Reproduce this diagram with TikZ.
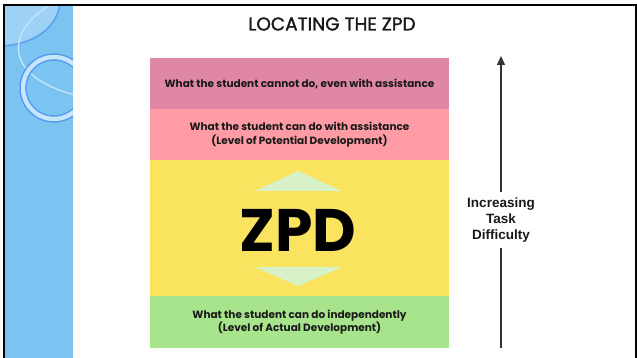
\documentclass[tikz,border=0pt]{standalone}
\usepackage{fontspec}
\setmainfont{Poppins}
\newfontfamily\arialf{Liberation Sans}
\newfontfamily\titlef[FakeBold=1.5]{Poppins}
\usetikzlibrary{arrows.meta}
\definecolor{panel}{RGB}{123,196,242}
\definecolor{panellight}{RGB}{157,210,246}
\definecolor{paneldark}{RGB}{90,158,240}
\definecolor{panelpale}{RGB}{200,230,250}
\definecolor{rowA}{RGB}{224,135,163}
\definecolor{rowB}{RGB}{255,155,165}
\definecolor{rowC}{RGB}{249,227,95}
\definecolor{rowD}{RGB}{168,228,140}
\definecolor{tri}{RGB}{215,241,201}
\definecolor{arrowgray}{RGB}{50,50,50}
\tikzset{
  rowbox/.style={rectangle, inner sep=0pt, minimum width=299pt, align=center,
    font=\bfseries\fontsize{10.5}{13.5}\selectfont, text=black!90},
  arrowline/.style={draw=arrowgray, line width=1.3pt},
}
\begin{document}
\begin{tikzpicture}[x=1pt,y=-1pt]
\useasboundingbox (0,0) rectangle (637,358);
\fill[white] (0,0) rectangle (637,358);
% side panel
\fill[panel] (5,6) rectangle (73,358);
\begin{scope}
  \clip (5,6) rectangle (73,358);
  \fill[panellight] (5,6) -- (60,6) .. controls (56,30) and (32,44) .. (5,46) -- cycle;
  \draw[paneldark, line width=1.5pt] (60,4) .. controls (56,30) and (32,44) .. (3,46);
  \draw[panelpale, line width=1.3pt] (50,5) .. controls (8,30) and (0,75) .. (75,95);
  \draw[panelpale, line width=5pt] (54,88) circle[radius=31];
  \draw[paneldark, line width=1.5pt] (54,88) circle[radius=34];
  \draw[paneldark, line width=1.5pt] (54,88) circle[radius=28];
\end{scope}
% frame
\draw[black, line width=2pt] (4,358) -- (4,5) -- (636,5) -- (636,358);
% title
\node[font=\titlef\fontsize{18.5}{20}\selectfont, text=black!90] (title) at (332,24) {LOCATING THE ZPD};
% rows
\node[rowbox, fill=rowA, minimum height=51pt] (r1) at (299.5,83.5) {What the student cannot do, even with assistance};
\node[rowbox, fill=rowB, minimum height=51pt] (r2) at (299.5,134.5) {What the student can do with assistance\\(Level of Potential Development)};
\node[rowbox, fill=rowC, minimum height=136pt] (r3) at (299.5,228) {};
\node[rowbox, fill=rowD, minimum height=52pt] (r4) at (299.5,322) {What the student can do independently\\(Level of Actual Development)};
% triangles
\fill[tri] (255,191) -- (298,171) -- (342,191) -- cycle;
\fill[tri] (255,267) -- (342,267) -- (298,286) -- cycle;
\node[font=\bfseries\fontsize{60}{60}\selectfont, inner sep=0pt] (zpd) at (298,230) {ZPD};
% difficulty arrow
\node[font=\arialf\bfseries\fontsize{13.5}{16}\selectfont, align=center, text=black!90, inner sep=6pt] (diff) at (501,220) {Increasing\\Task\\Difficulty};
\coordinate (atop) at (501,56);
\coordinate (abot) at (501,348);
\draw[arrowline, -{Triangle[width=8pt,length=9pt]}] (diff.north) -- (atop);
\draw[arrowline] (abot) -- (diff.south);
\end{tikzpicture}
\end{document}
